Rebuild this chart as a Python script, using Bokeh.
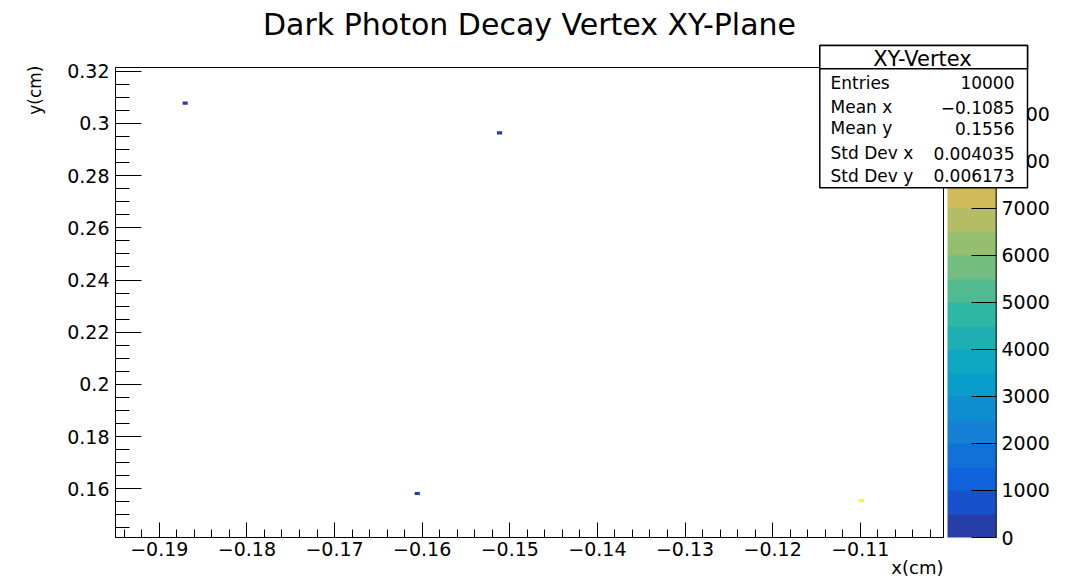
import numpy as np
from bokeh.plotting import figure
from bokeh.layouts import column
from bokeh.models import (Range1d, FixedTicker, LinearColorMapper, ColorBar,
                          ColumnDataSource)
from bokeh.core.properties import value
from bokeh.embed import file_html
from bokeh.resources import INLINE

# ---- data: filled bins of the decay-vertex histogram (bin centres in cm) ----
bin_x = [-0.18705, -0.15117, -0.16056, -0.10986]
bin_y = [0.30778, 0.29636, 0.15820, 0.15540]
bin_counts = [1, 1, 1, 9997]
bin_dx = 0.00059
bin_dy = 0.0012

x_ticks = [-0.19, -0.18, -0.17, -0.16, -0.15, -0.14, -0.13, -0.12, -0.11]
x_tick_labels = ["\u22120.19", "\u22120.18", "\u22120.17", "\u22120.16", "\u22120.15",
                 "\u22120.14", "\u22120.13", "\u22120.12", "\u22120.11"]
y_ticks = [0.16, 0.18, 0.20, 0.22, 0.24, 0.26, 0.28, 0.30, 0.32]
y_tick_labels = ["0.16", "0.18", "0.2", "0.22", "0.24", "0.26", "0.28", "0.3", "0.32"]
z_ticks = [0, 1000, 2000, 3000, 4000, 5000, 6000, 7000, 8000, 9000]
z_max = 9997

stats_title = "XY-Vertex"
stats_names = ["Entries", "Mean x", "Mean y", "Std Dev x", "Std Dev y"]
stats_values = ["10000", "\u22120.1085", "0.1556", "0.004035", "0.006173"]

# ---- axis ranges and canvas geometry ----
X0, X1 = -0.195, -0.1005
Y0, Y1 = 0.14134, 0.32142
W, H = 1074, 579
FL, FR, FT, FB = 115, 943, 67, 537   # frame edges in canvas pixels

FONT = "DejaVu Sans"
TICK_FONT_SIZE = "19px"

# ROOT "bird" palette sampled into 20 contour levels
stops = [0.0, 0.125, 0.25, 0.375, 0.5, 0.625, 0.75, 0.875, 1.0]
red = [0.2082, 0.0592, 0.0780, 0.0232, 0.1802, 0.5301, 0.8186, 0.9956, 0.9764]
green = [0.1664, 0.3599, 0.5041, 0.6419, 0.7178, 0.7492, 0.7328, 0.7862, 0.9832]
blue = [0.5293, 0.8684, 0.8385, 0.7914, 0.6425, 0.4662, 0.3499, 0.1968, 0.0539]
n_levels = 20
palette = []
for i in range(n_levels):
    t = int((i + 0.99) * 255 / n_levels) / 254.0
    r, g, b = (np.interp(t, stops, c) for c in (red, green, blue))
    palette.append("#%02x%02x%02x" % (int(round(r * 255)), int(round(g * 255)), int(round(b * 255))))

mapper = LinearColorMapper(palette=palette, low=0, high=z_max)

# ---------------- main histogram panel ----------------
p = figure(width=W, height=H, x_range=Range1d(X0, X1), y_range=Range1d(Y0, Y1),
           output_backend="svg", toolbar_location=None, title=None, min_border=0)
p.frame_align = False
p.min_border_left = FL
p.min_border_right = W - FR
p.min_border_top = FT
p.min_border_bottom = H - FB
p.background_fill_color = "white"
p.border_fill_color = "white"
p.outline_line_color = "black"
p.outline_line_width = 1
p.xgrid.visible = False
p.ygrid.visible = False

src = ColumnDataSource(dict(x=bin_x, y=bin_y, count=bin_counts))
p.rect(x="x", y="y", width=bin_dx, height=bin_dy, source=src,
       fill_color={"field": "count", "transform": mapper}, line_color=None)

# axes: ROOT style ticks drawn inside the frame
x_minor = [round(v, 3) for v in np.arange(-0.194, X1, 0.002)]
y_minor = [round(v, 3) for v in np.arange(0.145, Y1, 0.005)]
p.xaxis.ticker = FixedTicker(ticks=x_ticks, minor_ticks=x_minor)
p.yaxis.ticker = FixedTicker(ticks=y_ticks, minor_ticks=y_minor)
p.xaxis.major_label_overrides = dict(zip(x_ticks, x_tick_labels))
p.yaxis.major_label_overrides = dict(zip(y_ticks, y_tick_labels))
for ax in (p.xaxis[0], p.yaxis[0]):
    ax.axis_line_color = "black"
    ax.major_tick_line_color = "black"
    ax.minor_tick_line_color = "black"
    ax.major_tick_out = 0
    ax.minor_tick_out = 0
    ax.major_label_text_font = FONT
    ax.major_label_text_font_size = TICK_FONT_SIZE
    ax.major_label_text_color = "black"
p.xaxis.major_tick_in = 15
p.xaxis.minor_tick_in = 8
p.yaxis.major_tick_in = 26
p.yaxis.minor_tick_in = 14
p.xaxis.major_label_standoff = 4
p.yaxis.major_label_standoff = 6

# colour scale next to the frame
cbar = ColorBar(color_mapper=mapper, ticker=FixedTicker(ticks=z_ticks),
                location=(947 - FL, 0), orientation="vertical",
                width=49, height=FB - FT, padding=0, margin=0,
                label_standoff=5, major_tick_in=25, major_tick_out=0,
                major_tick_line_color="black", minor_tick_line_color=None,
                bar_line_color=None, border_line_color=None,
                background_fill_alpha=0,
                major_label_text_font=FONT, major_label_text_font_size=TICK_FONT_SIZE,
                major_label_text_color="black")
p.add_layout(cbar)

# ---------------- transparent overlay in canvas pixels ----------------
# holds the titles and the statistics box, which sit partly outside the frame
ov = figure(width=W, height=H, x_range=Range1d(0, W), y_range=Range1d(0, H),
            output_backend="svg", toolbar_location=None, title=None, min_border=0,
            x_axis_type=None, y_axis_type=None)
ov.frame_align = False
ov.background_fill_color = None
ov.border_fill_color = None
ov.outline_line_color = None
ov.margin = (-H, 0, 0, 0)


def top(py):
    """pixel row counted from the top -> overlay y coordinate"""
    return H - py


# right edge of the colour scale
ov.segment(x0=[995.7], y0=[top(FT)], x1=[995.7], y1=[top(FB)],
           line_color="#222222", line_width=1.2)

# titles (text placed by its vertical middle)
ov.text(x=[529], y=[top(24)], text=["Dark Photon Decay Vertex XY-Plane"],
        text_align="center", text_baseline="middle",
        text_font=value(FONT), text_font_size="30px", text_color="black")
ov.text(x=[FR], y=[top(567)], text=["x(cm)"], text_align="right",
        text_baseline="middle", text_font=value(FONT), text_font_size="18px",
        text_color="black")
ov.text(x=[34.5], y=[top(65)], text=["y(cm)"], angle=np.pi / 2,
        text_align="right", text_baseline="middle", text_font=value(FONT),
        text_font_size="17px", text_color="black")

# statistics box
BL, BR, BT, BB, BH = 819.3, 1027, 45, 187.3, 68.3
ov.quad(left=[BL, BL], right=[BR, BR], top=[top(BT), top(BT)],
        bottom=[top(BB), top(BH)], fill_color="white", line_color="black",
        line_width=1.5)
ov.text(x=[922], y=[top(58)], text=[stats_title], text_align="center",
        text_baseline="middle", text_font=value(FONT), text_font_size="21px",
        text_color="black")
row_centres = [82.0, 106.5, 127.5, 152.8, 175.0]
ov.text(x=[830] * len(stats_names), y=[top(c) for c in row_centres], text=stats_names,
        text_align="left", text_baseline="middle", text_font=value(FONT),
        text_font_size="17px", text_color="black")
ov.text(x=[1014] * len(stats_values), y=[top(c) for c in row_centres], text=stats_values,
        text_align="right", text_baseline="middle", text_font=value(FONT),
        text_font_size="17px", text_color="black")

layout = column(p, ov, spacing=0)
open("out.html", "w").write(file_html(layout, INLINE))
